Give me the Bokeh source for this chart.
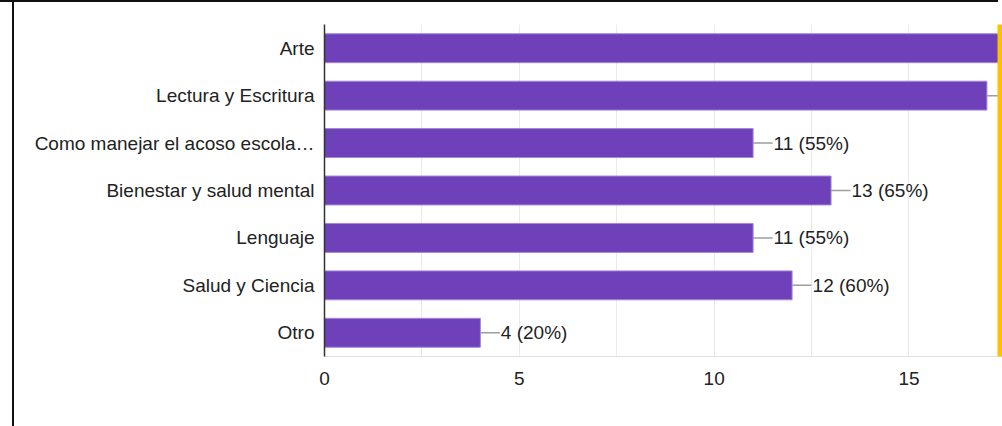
from bokeh.plotting import figure
from bokeh.models import ColumnDataSource, FactorRange, Range1d, FixedTicker, BoxAnnotation, InlineStyleSheet
from bokeh.core.properties import value
from bokeh.embed import file_html
from bokeh.resources import INLINE

categories = ["Arte", "Lectura y Escritura", "Como manejar el acoso escola…",
              "Bienestar y salud mental", "Lenguaje", "Salud y Ciencia", "Otro"]
values = [18, 17, 11, 13, 11, 12, 4]
total = 20
labels = [f"{v} ({round(100 * v / total)}%)" for v in values]
x_ticks = [0, 5, 10, 15]
x_minor = [2.5, 7.5, 12.5, 17.5]

FONT = "Liberation Sans"
FS = "19px"

src = ColumnDataSource(dict(
    cat=categories,
    val=values,
    lab=labels,
    lead=[v + 0.5 for v in values],
))

p = figure(width=1002, height=426, output_backend="svg", toolbar_location=None,
           y_range=FactorRange(factors=list(reversed(categories))),
           x_range=Range1d(0, 17.4))
p.min_border_left = 324
p.min_border_right = 0
p.min_border_top = 24
p.min_border_bottom = 70
p.outline_line_color = None

p.hbar(y="cat", right="val", left=0, height=0.61, source=src,
       fill_color="#6e40b9", line_color="#a387d8", line_width=1)
p.segment(x0="val", x1="lead", y0="cat", y1="cat", source=src,
          line_color="#9e9e9e", line_width=1.5)
p.text(x="lead", y="cat", text="lab", source=src, x_offset=1,
       text_font=value(FONT), text_font_size=FS, text_color="#222222",
       text_baseline="middle", text_align="left")

p.xaxis.ticker = FixedTicker(ticks=x_ticks, minor_ticks=x_minor)
p.xgrid.ticker = FixedTicker(ticks=x_ticks + x_minor)
p.xgrid.grid_line_color = "#ebebeb"
p.ygrid.grid_line_color = None

p.xaxis.axis_line_color = "#e0e0e0"
p.xaxis.major_tick_line_color = None
p.xaxis.minor_tick_line_color = None
p.xaxis.major_label_text_font = FONT
p.xaxis.major_label_text_font_size = FS
p.xaxis.major_label_text_color = "#222222"
p.xaxis.major_label_standoff = 9

p.yaxis.axis_line_color = "#333333"
p.yaxis.axis_line_width = 1.5
p.yaxis.major_tick_line_color = None
p.yaxis.minor_tick_line_color = None
p.yaxis.major_label_text_font = FONT
p.yaxis.major_label_text_font_size = FS
p.yaxis.major_label_text_color = "#222222"
p.yaxis.major_label_standoff = 4

# screenshot frame artefacts (black left/top edge, yellow right strip)
p.stylesheets = [InlineStyleSheet(css="""
:host::before { content: ""; position: absolute; left: 12px; top: 0; width: 2px;
  height: 100%; background: #111; z-index: 10; pointer-events: none; }
:host::after { content: ""; position: absolute; left: 0; top: 0; width: 998px;
  height: 2px; background: #111; z-index: 10; pointer-events: none; }
""")]
p.add_layout(BoxAnnotation(left=997, right=1002, top=0, bottom=426,
                           left_units="canvas", right_units="canvas",
                           top_units="canvas", bottom_units="canvas",
                           fill_color="#ffc000", fill_alpha=1, line_color=None))

open("out.html", "w").write(file_html(p, INLINE))
